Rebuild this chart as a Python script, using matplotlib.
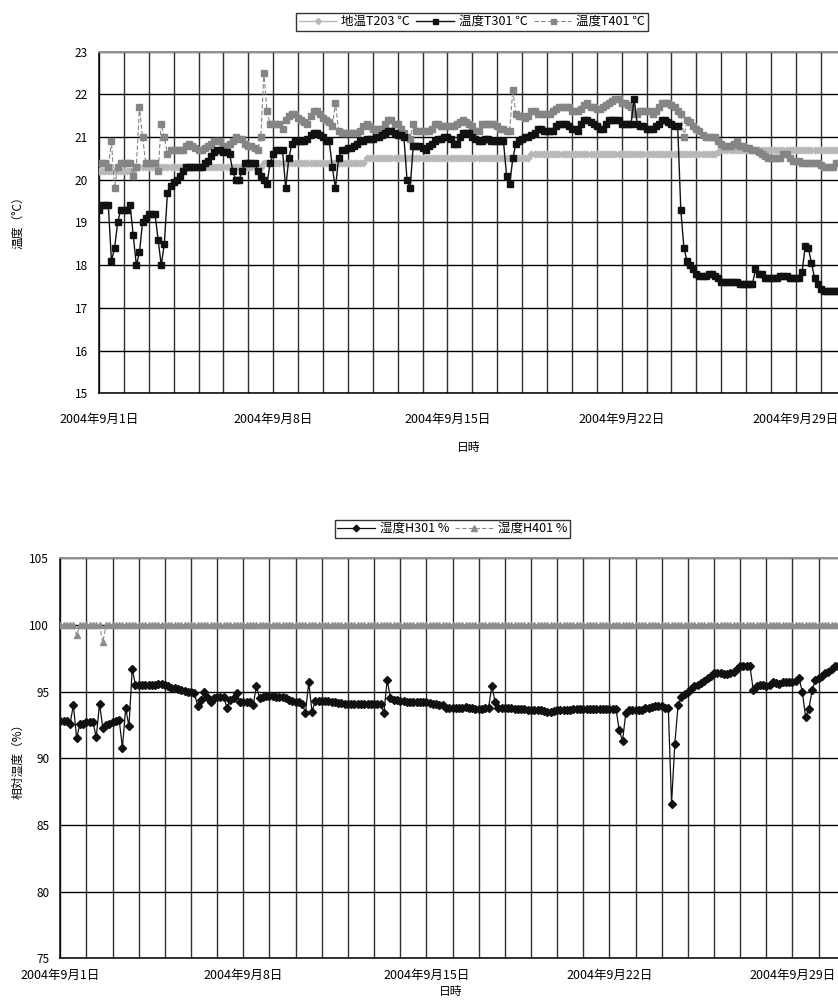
import numpy as np
import pandas as pd
import matplotlib
matplotlib.use("Agg")
import matplotlib.pyplot as plt
import matplotlib.dates as mdates

plt.rcParams['font.family'] = ['Noto Sans CJK JP', 'DejaVu Sans']

# ---------------- data (3-hourly samples, one row per day, 2004-09-01 .. 09-30) -------------
start_time = "2004-09-01 00:00"
sample_step = "3h"

T203 = [
    [20.2, 20.2, 20.2, 20.2, 20.2, 20.2, 20.2, 20.2],
    [20.2, 20.2, 20.2, 20.2, 20.3, 20.3, 20.3, 20.3],
    [20.3, 20.3, 20.3, 20.3, 20.3, 20.3, 20.3, 20.3],
    [20.3, 20.3, 20.3, 20.3, 20.3, 20.3, 20.3, 20.3],
    [20.3, 20.3, 20.3, 20.3, 20.3, 20.3, 20.3, 20.3],
    [20.3, 20.3, 20.3, 20.3, 20.3, 20.3, 20.3, 20.3],
    [20.3, 20.3, 20.3, 20.3, 20.3, 20.4, 20.4, 20.4],
    [20.4, 20.4, 20.4, 20.4, 20.4, 20.4, 20.4, 20.4],
    [20.4, 20.4, 20.4, 20.4, 20.4, 20.4, 20.4, 20.4],
    [20.4, 20.4, 20.4, 20.4, 20.4, 20.4, 20.4, 20.4],
    [20.4, 20.4, 20.4, 20.4, 20.4, 20.4, 20.5, 20.5],
    [20.5, 20.5, 20.5, 20.5, 20.5, 20.5, 20.5, 20.5],
    [20.5, 20.5, 20.5, 20.5, 20.5, 20.5, 20.5, 20.5],
    [20.5, 20.5, 20.5, 20.5, 20.5, 20.5, 20.5, 20.5],
    [20.5, 20.5, 20.5, 20.5, 20.5, 20.5, 20.5, 20.5],
    [20.5, 20.5, 20.5, 20.5, 20.5, 20.5, 20.5, 20.5],
    [20.5, 20.5, 20.5, 20.5, 20.5, 20.5, 20.5, 20.5],
    [20.5, 20.5, 20.5, 20.6, 20.6, 20.6, 20.6, 20.6],
    [20.6, 20.6, 20.6, 20.6, 20.6, 20.6, 20.6, 20.6],
    [20.6, 20.6, 20.6, 20.6, 20.6, 20.6, 20.6, 20.6],
    [20.6, 20.6, 20.6, 20.6, 20.6, 20.6, 20.6, 20.6],
    [20.6, 20.6, 20.6, 20.6, 20.6, 20.6, 20.6, 20.6],
    [20.6, 20.6, 20.6, 20.6, 20.6, 20.6, 20.6, 20.6],
    [20.6, 20.6, 20.6, 20.6, 20.6, 20.6, 20.6, 20.6],
    [20.6, 20.6, 20.6, 20.6, 20.6, 20.6, 20.6, 20.65],
    [20.8, 20.7, 20.7, 20.7, 20.7, 20.7, 20.7, 20.7],
    [20.7, 20.7, 20.7, 20.7, 20.7, 20.7, 20.7, 20.7],
    [20.7, 20.7, 20.7, 20.7, 20.7, 20.7, 20.7, 20.7],
    [20.7, 20.7, 20.7, 20.7, 20.7, 20.7, 20.7, 20.7],
    [20.7, 20.7, 20.7, 20.7, 20.7, 20.7, 20.7, 20.7],
]

T301 = [
    [19.3, 19.4, 19.4, 19.4, 18.1, 18.4, 19.0, 19.3],
    [19.3, 19.3, 19.4, 18.7, 18.0, 18.3, 19.0, 19.1],
    [19.2, 19.2, 19.2, 18.6, 18.0, 18.5, 19.7, 19.85],
    [19.95, 20.0, 20.1, 20.2, 20.3, 20.3, 20.3, 20.3],
    [20.3, 20.3, 20.4, 20.45, 20.55, 20.65, 20.7, 20.7],
    [20.65, 20.65, 20.6, 20.2, 20.0, 20.0, 20.2, 20.4],
    [20.4, 20.4, 20.4, 20.2, 20.1, 20.0, 19.9, 20.4],
    [20.6, 20.7, 20.7, 20.7, 19.8, 20.5, 20.85, 20.9],
    [20.9, 20.9, 20.9, 20.95, 21.05, 21.1, 21.1, 21.05],
    [21.0, 20.9, 20.9, 20.3, 19.8, 20.5, 20.7, 20.7],
    [20.75, 20.75, 20.8, 20.85, 20.9, 20.9, 20.95, 20.95],
    [20.95, 21.0, 21.0, 21.05, 21.1, 21.15, 21.15, 21.1],
    [21.05, 21.05, 21.0, 20.0, 19.8, 20.8, 20.8, 20.8],
    [20.75, 20.7, 20.8, 20.85, 20.9, 20.95, 20.95, 21.0],
    [21.0, 20.95, 20.85, 20.85, 21.0, 21.1, 21.1, 21.1],
    [21.0, 20.95, 20.9, 20.9, 20.95, 20.95, 20.9, 20.9],
    [20.9, 20.9, 20.9, 20.1, 19.9, 20.5, 20.85, 20.9],
    [20.95, 21.0, 21.0, 21.05, 21.1, 21.2, 21.2, 21.15],
    [21.15, 21.15, 21.15, 21.25, 21.3, 21.3, 21.3, 21.25],
    [21.2, 21.2, 21.15, 21.3, 21.4, 21.4, 21.35, 21.3],
    [21.25, 21.2, 21.2, 21.3, 21.4, 21.4, 21.4, 21.4],
    [21.3, 21.3, 21.3, 21.3, 21.9, 21.3, 21.25, 21.25],
    [21.2, 21.2, 21.2, 21.25, 21.3, 21.4, 21.4, 21.35],
    [21.3, 21.25, 21.25, 19.3, 18.4, 18.1, 18.0, 17.9],
    [17.8, 17.75, 17.75, 17.75, 17.8, 17.8, 17.75, 17.7],
    [17.6, 17.6, 17.6, 17.6, 17.6, 17.6, 17.55, 17.55],
    [17.55, 17.55, 17.55, 17.9, 17.8, 17.8, 17.7, 17.7],
    [17.7, 17.7, 17.7, 17.75, 17.75, 17.75, 17.7, 17.7],
    [17.7, 17.7, 17.85, 18.45, 18.4, 18.05, 17.7, 17.55],
    [17.45, 17.4, 17.4, 17.4, 17.4, 17.4, 17.4, 17.4],
]

T401 = [
    [20.4, 20.4, 20.4, 20.3, 20.9, 19.8, 20.3, 20.4],
    [20.4, 20.4, 20.4, 20.1, 20.3, 21.7, 21.0, 20.4],
    [20.4, 20.4, 20.4, 20.2, 21.3, 21.0, 20.6, 20.7],
    [20.7, 20.7, 20.7, 20.7, 20.8, 20.85, 20.8, 20.75],
    [20.7, 20.7, 20.75, 20.8, 20.85, 20.9, 20.9, 20.9],
    [20.8, 20.8, 20.85, 20.9, 21.0, 20.95, 20.95, 20.85],
    [20.8, 20.8, 20.75, 20.7, 21.0, 22.5, 21.6, 21.3],
    [21.3, 21.3, 21.3, 21.2, 21.4, 21.5, 21.55, 21.55],
    [21.45, 21.4, 21.35, 21.3, 21.5, 21.6, 21.6, 21.55],
    [21.45, 21.4, 21.35, 21.25, 21.8, 21.15, 21.1, 21.1],
    [21.1, 21.1, 21.1, 21.1, 21.15, 21.25, 21.3, 21.25],
    [21.2, 21.2, 21.2, 21.2, 21.3, 21.4, 21.4, 21.3],
    [21.3, 21.2, 21.1, 21.0, 20.95, 21.3, 21.15, 21.15],
    [21.15, 21.15, 21.15, 21.2, 21.3, 21.3, 21.25, 21.25],
    [21.25, 21.25, 21.25, 21.3, 21.35, 21.4, 21.35, 21.3],
    [21.25, 21.15, 21.15, 21.3, 21.3, 21.3, 21.3, 21.3],
    [21.25, 21.2, 21.2, 21.15, 21.15, 22.1, 21.55, 21.5],
    [21.5, 21.45, 21.5, 21.6, 21.6, 21.55, 21.55, 21.55],
    [21.55, 21.55, 21.6, 21.65, 21.7, 21.7, 21.7, 21.7],
    [21.6, 21.6, 21.6, 21.65, 21.75, 21.8, 21.7, 21.7],
    [21.65, 21.65, 21.7, 21.75, 21.8, 21.85, 21.9, 21.9],
    [21.8, 21.8, 21.75, 21.7, 21.55, 21.55, 21.6, 21.6],
    [21.6, 21.6, 21.55, 21.6, 21.7, 21.8, 21.8, 21.8],
    [21.75, 21.7, 21.6, 21.55, 21.0, 21.4, 21.35, 21.27],
    [21.2, 21.15, 21.05, 21.0, 21.0, 21.0, 21.0, 20.9],
    [20.85, 20.8, 20.8, 20.8, 20.85, 20.9, 20.8, 20.8],
    [20.75, 20.75, 20.7, 20.7, 20.65, 20.6, 20.55, 20.5],
    [20.5, 20.5, 20.5, 20.5, 20.6, 20.6, 20.5, 20.45],
    [20.45, 20.45, 20.4, 20.4, 20.4, 20.4, 20.4, 20.4],
    [20.35, 20.3, 20.3, 20.3, 20.3, 20.4, 20.4, 20.4],
]

H301 = [
    [92.8, 92.8, 92.8, 92.6, 94.0, 91.5, 92.6, 92.6],
    [92.7, 92.7, 92.7, 91.6, 94.1, 92.3, 92.5, 92.6],
    [92.7, 92.8, 92.9, 90.8, 93.75, 92.4, 96.7, 95.5],
    [95.5, 95.5, 95.5, 95.5, 95.5, 95.5, 95.55, 95.55],
    [95.5, 95.4, 95.3, 95.25, 95.2, 95.1, 95.05, 95.0],
    [95.0, 94.9, 93.95, 94.4, 94.95, 94.6, 94.25, 94.5],
    [94.6, 94.6, 94.6, 93.8, 94.4, 94.5, 94.9, 94.25],
    [94.25, 94.25, 94.25, 94.0, 95.4, 94.5, 94.6, 94.7],
    [94.7, 94.65, 94.6, 94.6, 94.6, 94.5, 94.4, 94.3],
    [94.25, 94.2, 94.1, 93.4, 95.7, 93.5, 94.3, 94.3],
    [94.3, 94.3, 94.3, 94.2, 94.2, 94.15, 94.15, 94.1],
    [94.1, 94.1, 94.1, 94.1, 94.1, 94.1, 94.1, 94.1],
    [94.1, 94.1, 94.1, 93.4, 95.9, 94.5, 94.4, 94.35],
    [94.3, 94.3, 94.25, 94.25, 94.25, 94.25, 94.25, 94.25],
    [94.2, 94.15, 94.1, 94.05, 94.0, 94.0, 93.8, 93.8],
    [93.8, 93.8, 93.75, 93.75, 93.85, 93.8, 93.75, 93.7],
    [93.7, 93.7, 93.75, 93.75, 95.45, 94.25, 93.75, 93.75],
    [93.75, 93.75, 93.75, 93.7, 93.7, 93.7, 93.7, 93.65],
    [93.6, 93.6, 93.6, 93.6, 93.55, 93.5, 93.5, 93.55],
    [93.6, 93.6, 93.6, 93.65, 93.65, 93.7, 93.7, 93.7],
    [93.7, 93.7, 93.7, 93.7, 93.7, 93.7, 93.7, 93.7],
    [93.7, 93.7, 93.7, 92.1, 91.3, 93.4, 93.6, 93.6],
    [93.6, 93.6, 93.65, 93.75, 93.8, 93.85, 93.9, 93.9],
    [93.9, 93.8, 93.75, 86.6, 91.1, 94.0, 94.6, 94.8],
    [95.0, 95.2, 95.4, 95.5, 95.65, 95.8, 96.0, 96.2],
    [96.4, 96.4, 96.4, 96.35, 96.3, 96.4, 96.5, 96.7],
    [96.9, 96.9, 96.9, 96.9, 95.1, 95.4, 95.5, 95.5],
    [95.4, 95.5, 95.7, 95.65, 95.6, 95.7, 95.75, 95.75],
    [95.7, 95.8, 96.0, 95.0, 93.1, 93.7, 95.1, 95.9],
    [96.0, 96.2, 96.4, 96.5, 96.7, 96.9, 96.9, 96.9],
]

H401 = [
    [100.0, 100.0, 100.0, 100.0, 100.0, 99.25, 100.0, 100.0],
    [100.0, 100.0, 100.0, 100.0, 100.0, 98.7, 100.0, 100.0],
    [100.0, 100.0, 100.0, 100.0, 100.0, 100.0, 100.0, 100.0],
    [100.0, 100.0, 100.0, 100.0, 100.0, 100.0, 100.0, 100.0],
    [100.0, 100.0, 100.0, 100.0, 100.0, 100.0, 100.0, 100.0],
    [100.0, 100.0, 100.0, 100.0, 100.0, 100.0, 100.0, 100.0],
    [100.0, 100.0, 100.0, 100.0, 100.0, 100.0, 100.0, 100.0],
    [100.0, 100.0, 100.0, 100.0, 100.0, 100.0, 100.0, 100.0],
    [100.0, 100.0, 100.0, 100.0, 100.0, 100.0, 100.0, 100.0],
    [100.0, 100.0, 100.0, 100.0, 100.0, 100.0, 100.0, 100.0],
    [100.0, 100.0, 100.0, 100.0, 100.0, 100.0, 100.0, 100.0],
    [100.0, 100.0, 100.0, 100.0, 100.0, 100.0, 100.0, 100.0],
    [100.0, 100.0, 100.0, 100.0, 100.0, 100.0, 100.0, 100.0],
    [100.0, 100.0, 100.0, 100.0, 100.0, 100.0, 100.0, 100.0],
    [100.0, 100.0, 100.0, 100.0, 100.0, 100.0, 100.0, 100.0],
    [100.0, 100.0, 100.0, 100.0, 100.0, 100.0, 100.0, 100.0],
    [100.0, 100.0, 100.0, 100.0, 100.0, 100.0, 100.0, 100.0],
    [100.0, 100.0, 100.0, 100.0, 100.0, 100.0, 100.0, 100.0],
    [100.0, 100.0, 100.0, 100.0, 100.0, 100.0, 100.0, 100.0],
    [100.0, 100.0, 100.0, 100.0, 100.0, 100.0, 100.0, 100.0],
    [100.0, 100.0, 100.0, 100.0, 100.0, 100.0, 100.0, 100.0],
    [100.0, 100.0, 100.0, 100.0, 100.0, 100.0, 100.0, 100.0],
    [100.0, 100.0, 100.0, 100.0, 100.0, 100.0, 100.0, 100.0],
    [100.0, 100.0, 100.0, 100.0, 100.0, 100.0, 100.0, 100.0],
    [100.0, 100.0, 100.0, 100.0, 100.0, 100.0, 100.0, 100.0],
    [100.0, 100.0, 100.0, 100.0, 100.0, 100.0, 100.0, 100.0],
    [100.0, 100.0, 100.0, 100.0, 100.0, 100.0, 100.0, 100.0],
    [100.0, 100.0, 100.0, 100.0, 100.0, 100.0, 100.0, 100.0],
    [100.0, 100.0, 100.0, 100.0, 100.0, 100.0, 100.0, 100.0],
    [100.0, 100.0, 100.0, 100.0, 100.0, 100.0, 100.0, 100.0],
]

tick_dates = ["2004-09-01", "2004-09-08", "2004-09-15", "2004-09-22", "2004-09-29"]
tick_labels = ["2004年9月1日", "2004年9月8日", "2004年9月15日", "2004年9月22日", "2004年9月29日"]
x_range = ["2004-09-01", "2004-10-01"]

temp_labels = ["地温T203 ℃", "温度T301 ℃", "温度T401 ℃"]
hum_labels = ["湿度H301 %", "湿度H401 %"]

# ---------------- figure -------------
W, H = 838, 1000
fig = plt.figure(figsize=(W / 100, H / 100), dpi=100)

def flat(rows):
    return np.concatenate([np.asarray(r, dtype=float) for r in rows])

n = len(flat(T301))
times = pd.date_range(start_time, periods=n, freq=sample_step)

FS = 8.5
XFS = 9

def style_axes(ax, xpad):
    ax.set_xlim(pd.Timestamp(x_range[0]), pd.Timestamp(x_range[1]))
    ax.xaxis.set_minor_locator(mdates.DayLocator())
    ax.set_xticks([pd.Timestamp(d) for d in tick_dates])
    ax.set_xticklabels(tick_labels)
    ax.grid(True, which='both', axis='x', color='#303030', lw=1.0)
    ax.grid(True, which='major', axis='y', color='black', lw=1.0)
    ax.tick_params(axis='both', which='both', length=0)
    ax.tick_params(axis='x', pad=xpad, labelsize=XFS)
    ax.tick_params(axis='y', pad=8, labelsize=FS)
    ax.spines['right'].set_visible(False)
    ax.spines['top'].set_color('#909090')
    ax.spines['top'].set_linewidth(1.4)
    for s in ('left', 'bottom'):
        ax.spines[s].set_color('black')
        ax.spines[s].set_linewidth(1.1)
    ax.set_axisbelow(True)

# ---- top chart
ax1 = fig.add_axes([99 / W, 1 - 393.3 / H, 30 * 24.89 / W, (393.3 - 51.7) / H])
l1, = ax1.plot(times, flat(T203), color='#b8b8b8', lw=1.0, marker='D', ms=3.4,
               mec='#b8b8b8', mfc='#b8b8b8', label=temp_labels[0], zorder=3)
l2, = ax1.plot(times, flat(T301), color='#111111', lw=1.0, marker='s', ms=4.0,
               mec='#111111', mfc='#111111', label=temp_labels[1], zorder=4)
l3, = ax1.plot(times, flat(T401), color='#858585', lw=0.8, ls=(0, (4, 2)), marker='s', ms=4.0,
               mec='#858585', mfc='#858585', label=temp_labels[2], zorder=3.5)
ax1.set_ylim(15, 23)
ax1.set_yticks(range(15, 24, 1))
style_axes(ax1, 14)
fig.text(18 / W, 1 - 220 / H, "温度（°C）", rotation=90, ha='center', va='center', fontsize=FS)
fig.text(469 / W, 1 - 447 / H, "日時", ha='center', va='center', fontsize=FS)

leg1 = fig.legend(handles=[l1, l2, l3], loc='center', bbox_to_anchor=(472 / W, 1 - 21.5 / H),
                  ncol=3, fontsize=9, frameon=True, fancybox=False, edgecolor='black',
                  handlelength=3.0, handletextpad=0.4, columnspacing=0.5, borderpad=0.2,
                  markerscale=0.9)
leg1.get_frame().set_linewidth(1.0)

# ---- bottom chart
ax2 = fig.add_axes([60.3 / W, 1 - 958.3 / H, 30 * 26.15 / W, (958.3 - 558.3) / H])
h1, = ax2.plot(times, flat(H301), color='#111111', lw=0.9, marker='D', ms=4.2,
               mec='#111111', mfc='#111111', label=hum_labels[0], zorder=4)
h2, = ax2.plot(times, flat(H401), color='#8c8c8c', lw=0.8, ls=(0, (4, 2)), marker='^', ms=4.6,
               mec='#8c8c8c', mfc='#8c8c8c', label=hum_labels[1], zorder=3)
ax2.set_ylim(75, 105)
ax2.set_yticks(range(75, 106, 5))
style_axes(ax2, 8)
fig.text(18 / W, 1 - 758 / H, "相対湿度（%）", rotation=90, ha='center', va='center', fontsize=FS)
fig.text(451 / W, 1 - 992 / H, "日時", ha='center', va='center', fontsize=FS)

leg2 = fig.legend(handles=[h1, h2], loc='center', bbox_to_anchor=(452 / W, 1 - 528.5 / H),
                  ncol=2, fontsize=9, frameon=True, fancybox=False, edgecolor='black',
                  handlelength=3.0, handletextpad=0.4, columnspacing=0.5, borderpad=0.2,
                  markerscale=0.8)
leg2.get_frame().set_linewidth(1.0)

fig.savefig("out.png", dpi=100)
